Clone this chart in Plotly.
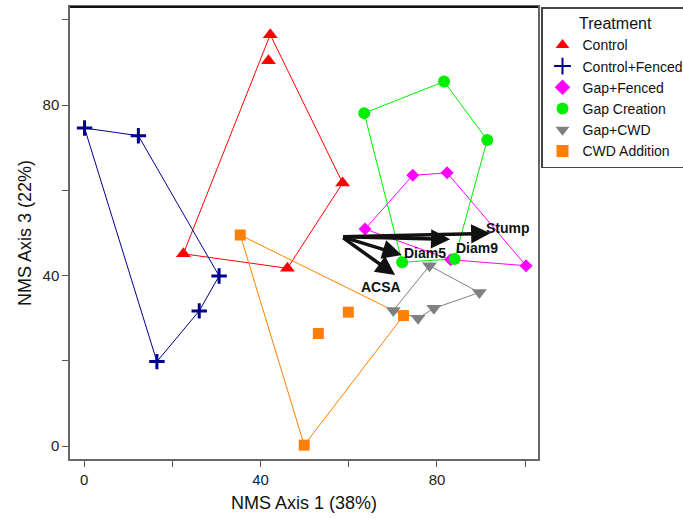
import plotly.graph_objects as go

# ---- data ----
ctrl_x = [42.2, 41.8, 58.6, 22.5, 46.1]
ctrl_y = [96.5, 90.4, 61.7, 45.1, 41.7]
ctrl_hull = [0, 2, 4, 3, 0]

cf_x = [0.1, 12.3, 30.6, 26.1, 16.5]
cf_y = [74.6, 72.8, 39.9, 31.7, 19.8]
cf_hull = [0, 1, 2, 3, 4, 0]

gf_x = [63.7, 74.5, 82.3, 100.2, 83.1]
gf_y = [50.9, 63.5, 64.1, 42.3, 43.7]
gf_hull = [0, 1, 2, 3, 4, 0]

gc_x = [63.5, 81.6, 91.4, 84.0, 72.1]
gc_y = [78.1, 85.5, 71.8, 43.9, 43.1]
gc_hull = [0, 1, 2, 3, 4, 0]

gcwd_x = [78.3, 89.6, 79.3, 75.7, 70.1]
gcwd_y = [42.3, 36.0, 32.3, 30.0, 31.8]
gcwd_hull = [0, 1, 2, 3, 4, 0]

cwd_x = [35.4, 72.4, 49.9, 59.9, 53.1]
cwd_y = [49.5, 30.6, 0.2, 31.4, 26.4]
cwd_hull = [0, 1, 2, 0]

vec_names = ["Stump", "Diam9", "Diam5", "ACSA"]
vec_origin = (58.4, 49.1)
vec_x = [92.1, 83.0, 72.0, 70.5]
vec_y = [49.9, 48.5, 44.8, 40.1]
lab_x = [96.2, 89.0, 77.3, 67.3]
lab_y = [51.1, 46.4, 45.2, 37.3]

tick_vals = [0, 20, 40, 60, 80, 100]
tick_text = ["0", "", "40", "", "80", ""]

groups = [
    ("Control", ctrl_x, ctrl_y, ctrl_hull, "#FF0000", "triangle-up", 13),
    ("Control+Fenced", cf_x, cf_y, cf_hull, "#000090", "cross-thin", 11),
    ("Gap+Fenced", gf_x, gf_y, gf_hull, "#FF00FF", "diamond", 10),
    ("Gap Creation", gc_x, gc_y, gc_hull, "#00EE00", "circle", 12),
    ("Gap+CWD", gcwd_x, gcwd_y, gcwd_hull, "#808080", "triangle-down", 13),
    ("CWD Addition", cwd_x, cwd_y, cwd_hull, "#FF8000", "square", 11),
]

FONT = "Liberation Sans, Arial, sans-serif"

fig = go.Figure()
for name, xs, ys, hull, col, sym, sz in groups:
    fig.add_trace(go.Scatter(
        x=[xs[i] for i in hull], y=[ys[i] for i in hull], mode="lines",
        line=dict(color=col, width=1), showlegend=False, hoverinfo="skip"))
for name, xs, ys, hull, col, sym, sz in groups:
    mk = dict(color=col, symbol=sym, size=sz)
    if sym == "cross-thin":
        mk["line"] = dict(color=col, width=3)
    else:
        mk["line"] = dict(width=0)
    fig.add_trace(go.Scatter(x=xs, y=ys, mode="markers", name=name, marker=mk))

for i, nm in enumerate(vec_names):
    fig.add_annotation(x=vec_x[i], y=vec_y[i], ax=vec_origin[0], ay=vec_origin[1],
                       xref="x", yref="y", axref="x", ayref="y", text="",
                       showarrow=True, arrowhead=2, arrowsize=1.1, arrowwidth=3.5,
                       arrowcolor="#111111")
    fig.add_annotation(x=lab_x[i], y=lab_y[i], xref="x", yref="y", text="<b>%s</b>" % nm,
                       showarrow=False, font=dict(size=14, color="#111111", family=FONT))

axis_common = dict(showgrid=False, zeroline=False, showline=True, linecolor="#666666",
                   linewidth=1.5, mirror=True, ticks="outside", ticklen=6,
                   tickcolor="#555555", tickwidth=1.2, automargin=False,
                   tickvals=tick_vals, ticktext=tick_text,
                   tickfont=dict(size=15, color="#222222", family=FONT))
fig.update_xaxes(range=[-3.2, 102.9],
                 title=dict(text="NMS Axis 1 (38%)", font=dict(size=18, color="#111111"), standoff=10),
                 **axis_common)
fig.update_yaxes(range=[-3.05, 103],
                 title=dict(text="NMS Axis 3 (22%)", font=dict(size=18, color="#111111"), standoff=6),
                 **axis_common)

# top frame line drawn darker, as in the reference
fig.add_shape(type="line", xref="paper", yref="paper", x0=0, x1=1, y0=1, y1=1,
              line=dict(color="#111111", width=2))

fig.update_layout(
    width=683, height=519,
    margin=dict(l=70, r=145, t=7, b=60, autoexpand=False),
    paper_bgcolor="white", plot_bgcolor="white",
    font=dict(family=FONT, color="#111111"),
    legend=dict(x=(541 - 70) / 468, y=1.0, xanchor="left", yanchor="top",
                title=dict(text="Treatment", side="top center", font=dict(size=16)),
                font=dict(size=14, color="#111111", family=FONT),
                bordercolor="#444444", borderwidth=1.5, bgcolor="white",
                itemwidth=30, itemsizing="constant", tracegroupgap=0),
)

fig.write_html("out.html", config={"displayModeBar": False},
               post_script="document.body.style.margin='0';")
